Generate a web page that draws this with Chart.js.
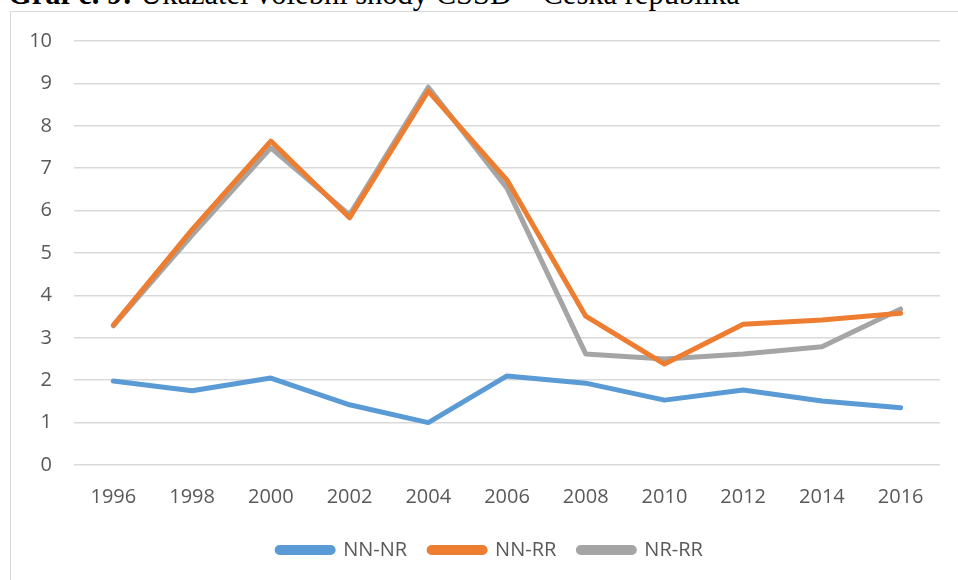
<!DOCTYPE html>
<html>
<head>
<meta charset="utf-8">
<script src="https://cdn.jsdelivr.net/npm/chart.js@4.4.1/dist/chart.umd.min.js"></script>
<style>
  body { margin: 0; background: #fff; overflow: hidden; }
  #title { position: absolute; left: 8px; top: -21px; font-family: "Liberation Serif", serif; font-size: 30.5px; line-height: 1; color: #000; white-space: nowrap; }
  #frame { position: absolute; left: 10px; top: 11px; width: 980px; height: 620px; border: 1.5px solid #d9d9d9; }
  #wrap { position: absolute; left: 0; top: 0; width: 958px; height: 580px; }
</style>
</head>
<body>
<div id="frame"></div>
<div id="title"><b>Graf č. 9:</b> Ukazatel volební shody ČSSD – Česká republika</div>
<div id="wrap"><canvas id="lineChart"></canvas></div>
<script>
var years = ['1996', '1998', '2000', '2002', '2004', '2006', '2008', '2010', '2012', '2014', '2016'];
var nnNr = [1.98, 1.75, 2.05, 1.42, 1.00, 2.10, 1.93, 1.53, 1.77, 1.51, 1.35];
var nnRr = [3.30, 5.55, 7.64, 5.83, 8.82, 6.72, 3.51, 2.38, 3.32, 3.42, 3.58];
var nrRr = [3.28, 5.42, 7.48, 5.90, 8.91, 6.53, 2.62, 2.50, 2.62, 2.79, 3.68];

var ctx = document.getElementById('lineChart').getContext('2d');

function series(label, data, color) {
    return {
        label: label,
        data: data,
        borderColor: color,
        backgroundColor: color,
        borderWidth: 5,
        pointRadius: 0,
        tension: 0,
        borderCapStyle: 'round',
        borderJoinStyle: 'round'
    };
}

// nudge the legend a bit to the right, like in the original
var legendShift = {
    id: 'legendShift',
    afterLayout: function (chart) {
        chart.legend.left += 20;
        chart.legend.right += 20;
    }
};

var lineChart = new Chart(ctx, {
    type: 'line',
    data: {
        labels: years,
        datasets: [
            series('NN-NR', nnNr, '#5b9bd5'),
            series('NN-RR', nnRr, '#ed7d31'),
            series('NR-RR', nrRr, '#a5a5a5')
        ]
    },
    plugins: [legendShift],
    options: {
        responsive: true,
        maintainAspectRatio: false,
        animation: false,
        layout: {
            padding: { left: 0, right: 18, top: 41, bottom: 10 }
        },
        plugins: {
            tooltip: { enabled: false },
            legend: {
                position: 'bottom',
                labels: {
                    boxWidth: 56,
                    boxHeight: 5,
                    useBorderRadius: true,
                    borderRadius: 2.5,
                    padding: 22,
                    color: '#595959',
                    font: { family: 'Open Sans', size: 20 }
                }
            }
        },
        scales: {
            x: {
                offset: true,
                grid: { display: false },
                border: { display: false },
                ticks: {
                    color: '#595959',
                    padding: 12,
                    maxRotation: 0,
                    font: { family: 'Open Sans', size: 20 }
                },
                afterFit: function (scale) { scale.height = 53; }
            },
            y: {
                min: 0,
                max: 10,
                ticks: {
                    stepSize: 1,
                    color: '#595959',
                    padding: 22,
                    font: { family: 'Open Sans', size: 20 }
                },
                grid: { color: '#d9d9d9', lineWidth: 1.5, drawTicks: false },
                border: { display: false },
                afterFit: function (scale) { scale.width = 74; }
            }
        }
    }
});
</script>
</body>
</html>
